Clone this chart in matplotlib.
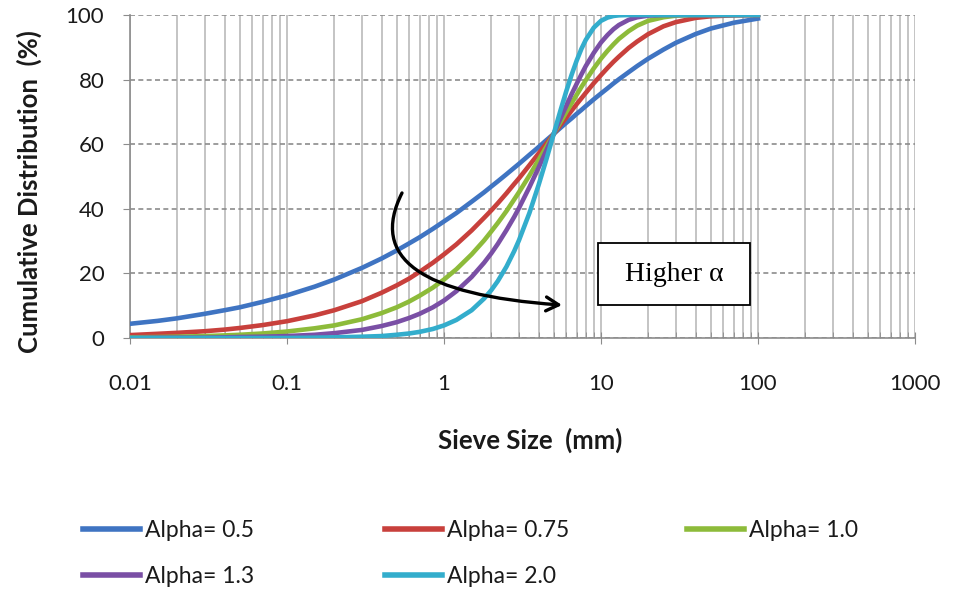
import matplotlib
matplotlib.use("Agg")
import matplotlib.pyplot as plt
from matplotlib.path import Path
from matplotlib.patches import FancyArrowPatch, Rectangle
from matplotlib.ticker import LogLocator, FixedLocator, NullFormatter

plt.rcParams['font.family'] = ['Lato', 'DejaVu Sans']

# Sieve sizes (mm)
sieve_mm = [0.01, 0.015, 0.02, 0.03, 0.04, 0.05, 0.07, 0.1, 0.15, 0.2, 0.3, 0.4, 0.5, 0.6,
            0.7, 0.85, 1, 1.2, 1.5, 1.8, 2, 2.2, 2.5, 2.8, 3, 3.5, 4, 4.5, 5, 5.5, 6, 6.5,
            7, 7.5, 8, 9, 10, 11, 12, 13, 15, 17, 20, 25, 30, 40, 50, 70, 100]

# Cumulative distribution (%)
alpha_05 = [4.4, 5.3, 6.1, 7.5, 8.6, 9.5, 11.2, 13.2, 15.9, 18.1, 21.7, 24.6, 27.1, 29.3,
            31.2, 33.8, 36.1, 38.7, 42.2, 45.1, 46.9, 48.5, 50.7, 52.7, 53.9, 56.7, 59.1, 61.3,
            63.2, 65.0, 66.6, 68.0, 69.4, 70.6, 71.8, 73.9, 75.7, 77.3, 78.8, 80.1, 82.3, 84.2,
            86.5, 89.3, 91.4, 94.1, 95.8, 97.6, 98.9]
alpha_075 = [0.9, 1.3, 1.6, 2.1, 2.6, 3.1, 4.0, 5.2, 7.0, 8.6, 11.4, 14.0, 16.3, 18.4,
             20.5, 23.3, 25.9, 29.0, 33.3, 37.2, 39.5, 41.7, 44.8, 47.7, 49.4, 53.5, 57.1, 60.3,
             63.2, 65.8, 68.2, 70.4, 72.4, 74.2, 75.9, 78.9, 81.4, 83.6, 85.5, 87.1, 89.8, 91.8,
             94.1, 96.5, 97.8, 99.1, 99.6, 99.9, 100.0]
alpha_10 = [0.2, 0.3, 0.4, 0.6, 0.8, 1.0, 1.4, 2.0, 3.0, 3.9, 5.8, 7.7, 9.5, 11.3,
            13.1, 15.6, 18.1, 21.3, 25.9, 30.2, 33.0, 35.6, 39.3, 42.9, 45.1, 50.3, 55.1, 59.3,
            63.2, 66.7, 69.9, 72.7, 75.3, 77.7, 79.8, 83.5, 86.5, 88.9, 90.9, 92.6, 95.0, 96.7,
            98.2, 99.3, 99.8, 100.0, 100.0, 100.0, 100.0]
alpha_13 = [0.0, 0.1, 0.1, 0.1, 0.2, 0.3, 0.4, 0.6, 1.0, 1.5, 2.5, 3.7, 4.9, 6.2,
            7.5, 9.5, 11.6, 14.5, 18.9, 23.3, 26.2, 29.1, 33.4, 37.5, 40.2, 46.7, 52.7, 58.2,
            63.2, 67.8, 71.8, 75.5, 78.7, 81.6, 84.2, 88.3, 91.5, 93.8, 95.6, 96.9, 98.5, 99.3,
            99.8, 100.0, 100.0, 100.0, 100.0, 100.0, 100.0]
alpha_20 = [0.0, 0.0, 0.0, 0.0, 0.0, 0.0, 0.0, 0.0, 0.1, 0.2, 0.4, 0.6, 1.0, 1.4,
            1.9, 2.8, 3.9, 5.6, 8.6, 12.2, 14.8, 17.6, 22.1, 26.9, 30.2, 38.7, 47.3, 55.5,
            63.2, 70.2, 76.3, 81.5, 85.9, 89.5, 92.3, 96.1, 98.2, 99.2, 99.7, 99.9, 100.0, 100.0,
            100.0, 100.0, 100.0, 100.0, 100.0, 100.0, 100.0]

series_labels = ["Alpha= 0.5", "Alpha= 0.75", "Alpha= 1.0", "Alpha= 1.3", "Alpha= 2.0"]
series_values = [alpha_05, alpha_075, alpha_10, alpha_13, alpha_20]
colors = ["#3F74C2", "#C8403C", "#8DBB3A", "#7A4FA5", "#33ADCC"]

y_ticks = [0, 20, 40, 60, 80, 100]
x_ticks = [0.01, 0.1, 1, 10, 100, 1000]
x_tick_labels = ["0.01", "0.1", "1", "10", "100", "1000"]

W, H = 955, 590
fig = plt.figure(figsize=(W / 100, H / 100), dpi=100)
ax = fig.add_axes([130 / W, 1 - 338 / H, 785 / W, 323 / H])

handles = []
for vals, lab, c in zip(series_values, series_labels, colors):
    h, = ax.plot(sieve_mm, vals, color=c, lw=3.3, label=lab, zorder=3)
    handles.append(h)

ax.set_xscale('log')
ax.set_xlim(0.01, 1000)
ax.set_ylim(0, 100)
ax.xaxis.set_major_locator(FixedLocator(x_ticks))
ax.set_xticklabels(x_tick_labels)
ax.xaxis.set_minor_locator(LogLocator(base=10, subs=range(2, 10)))
ax.xaxis.set_minor_formatter(NullFormatter())
ax.set_yticks(y_ticks)

ax.grid(True, which='both', axis='x', color='#C4C4C4', lw=1.4, ls='-', zorder=0)
ax.grid(True, which='major', axis='y', color='#8C8C8C', lw=1.2, ls=(0, (3, 2)), zorder=0)
ax.set_axisbelow(True)

for s in ['top', 'right']:
    ax.spines[s].set_visible(False)
for s in ['left', 'bottom']:
    ax.spines[s].set_color('#8C8C8C')
    ax.spines[s].set_linewidth(1.2)

ax.tick_params(axis='x', which='major', direction='inout', length=8, color='#8C8C8C',
               labelsize=16, pad=22, labelcolor='#1a1a1a')
ax.tick_params(axis='x', which='minor', direction='in', length=4, color='#8C8C8C')
ax.tick_params(axis='y', which='major', direction='out', length=5, color='#8C8C8C',
               labelsize=16, pad=13.5, labelcolor='#1a1a1a')

fig.text(530 / W, 1 - 440 / H, "Sieve Size  (mm)", fontsize=18.5, fontweight='bold',
         ha='center', va='center', color='#1a1a1a')
fig.text(29 / W, 1 - 192 / H, "Cumulative Distribution  (%)", fontsize=18.5,
         fontweight='bold', ha='center', va='center', rotation=90, color='#1a1a1a')

# curved arrow annotation
verts = [(0.3465, 0.449), (0.305, 0.248), (0.3694, 0.133), (0.5503, 0.102)]
codes = [Path.MOVETO, Path.CURVE4, Path.CURVE4, Path.CURVE4]
arrow = FancyArrowPatch(path=Path(verts, codes), transform=ax.transAxes,
                        arrowstyle='->,head_length=9,head_width=5', lw=2.4, color='black',
                        zorder=5, mutation_scale=1)
ax.add_patch(arrow)

ax.add_patch(Rectangle((0.596, 0.102), 0.194, 0.192, transform=ax.transAxes,
                       fc='white', ec='black', lw=1.3, zorder=6))
ax.text(0.693, 0.198, "Higher α", transform=ax.transAxes, ha='center', va='center',
        fontsize=20, family=['Liberation Serif', 'DejaVu Serif'], zorder=7)

# legend laid out in rows of three, one legend per column
legend_cols = [[0, 3], [1, 4], [2]]
col_x = [83, 385, 687]
for idx, x0 in zip(legend_cols, col_x):
    leg = fig.legend([handles[i] for i in idx], [series_labels[i] for i in idx],
                     loc='upper left', bbox_to_anchor=(x0 / W, 1 - 520 / H),
                     frameon=False, fontsize=16.5, handlelength=2.5, handletextpad=0.2,
                     borderaxespad=0, borderpad=0, labelspacing=1.1)
    for t in leg.get_texts():
        t.set_color('#1a1a1a')
    for ln in leg.get_lines():
        ln.set_linewidth(4)

fig.savefig("out.png", dpi=100)
